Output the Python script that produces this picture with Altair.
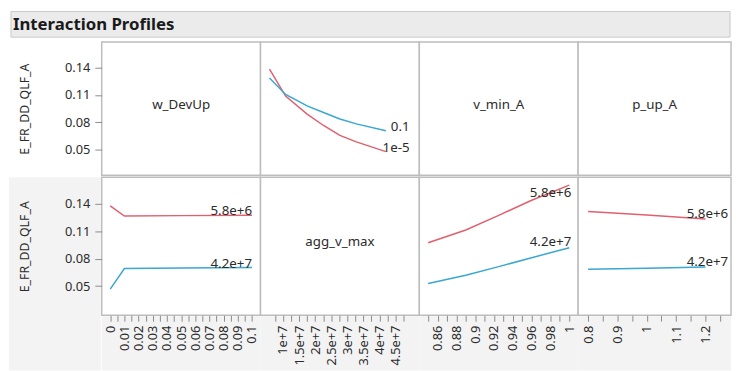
import altair as alt
import pandas as pd

# ---------------- data ----------------
TITLE = "Interaction Profiles"
Y_TITLE = "E_FR_DD_QLF_A"
FACTORS = ["w_DevUp", "agg_v_max", "v_min_A", "p_up_A"]

# response vs agg_v_max, for two levels of w_DevUp
agg_x = [5.8e6, 1.08e7, 1.75e7, 2.26e7, 2.77e7, 3.28e7, 4.2e7]
agg_red = [0.1386, 0.1089, 0.0890, 0.0764, 0.0655, 0.0583, 0.0475]
agg_blue = [0.1288, 0.1107, 0.0980, 0.0908, 0.0836, 0.0782, 0.0706]
wdev_levels = ["1e-5", "0.1"]

# response vs w_DevUp, for two levels of agg_v_max
wdev_x = [0.00001, 0.01, 0.05, 0.1]
wdev_red = [0.1378, 0.1267, 0.1272, 0.1277]
wdev_blue = [0.0467, 0.0692, 0.0698, 0.0703]
agg_levels = ["5.8e+6", "4.2e+7"]

# response vs v_min_A
vmin_x = [0.85, 0.89, 0.925, 0.96, 1.0]
vmin_red = [0.0974, 0.1115, 0.1275, 0.1440, 0.1606]
vmin_blue = [0.0529, 0.0619, 0.0713, 0.0811, 0.0920]

# response vs p_up_A
pup_x = [0.8, 1.0, 1.2]
pup_red = [0.1317, 0.1278, 0.1234]
pup_blue = [0.0684, 0.0695, 0.0709]

y_ticks = [0.05, 0.08, 0.11, 0.14]

# ---------------- style ----------------
RED = "#E0606E"
BLUE = "#3AA7CF"
FONT = "Noto Sans"
TXT = "#2b2b2b"
BORDER = "#bdbdbd"
GREY_BG = "#f3f3f3"
COL_W = [161, 161, 161, 155]
ROW_H = [135, 140]
LEFT_W = 94      # width of the y-axis strip left of the panels
BOTTOM_H = 56    # height of the x-axis strip below the panels

X_AXES = [
    dict(domain=[-0.006, 0.106], ticks=[round(i * 0.005, 4) for i in range(0, 21)], step=0.01, fmt="~g"),
    dict(domain=[3.0e6, 5.24e7], ticks=[7.5e6 + i * 2.5e6 for i in range(0, 17)], step=5e6, fmt=".2~e"),
    dict(domain=[0.8406, 1.0094], ticks=[round(0.85 + i * 0.01, 3) for i in range(0, 16)], step=0.02, fmt="~g"),
    dict(domain=[0.766, 1.287], ticks=[round(0.75 + i * 0.05, 3) for i in range(0, 11)], step=0.1, fmt="~g"),
]
Y_DOMAINS = [[0.0215, 0.1685], [0.018, 0.1693]]


def x_enc(col, show):
    a = X_AXES[col]
    if show:
        axis = alt.Axis(
            values=a["ticks"],
            labelExpr=f"abs(datum.value/{a['step']} - round(datum.value/{a['step']})) < 1e-6 ? format(datum.value, '{a['fmt']}') : ''",
            labelAngle=270,
            labelFontSize=13,
            labelColor=TXT,
            labelFont=FONT,
            labelPadding=4,
            labelOverlap=False,
            labelFlush=False,
            tickSize=6,
            tickColor="#8a8a8a",
            domain=False,
            grid=False,
            title=None,
            zindex=1,
        )
    else:
        axis = None
    return alt.X("x:Q", scale=alt.Scale(domain=a["domain"], nice=False, zero=False), axis=axis)


def y_enc(row, show):
    if show:
        axis = alt.Axis(
            values=y_ticks,
            format=".2f",
            labelFontSize=13,
            labelColor=TXT,
            labelFont=FONT,
            labelPadding=5,
            labelOverlap=False,
            labelFlush=False,
            tickSize=7,
            tickColor="#8a8a8a",
            domain=False,
            grid=False,
            title=Y_TITLE,
            titleFont=FONT,
            titleFontSize=12.5,
            titleFontWeight="normal",
            titleColor=TXT,
            titlePadding=33,
            zindex=1,
        )
    else:
        axis = None
    return alt.Y("y:Q", scale=alt.Scale(domain=Y_DOMAINS[row], nice=False, zero=False), axis=axis)


COLOR = alt.Color("c:N", scale=alt.Scale(domain=["red", "blue"], range=[RED, BLUE]), legend=None)


def backdrop(row, col):
    """Light grey strips behind the axes of the bottom row."""
    out = []
    if row != 1:
        return out
    one = pd.DataFrame({"k": [0]})
    w, h = COL_W[col], ROW_H[row]
    out.append(alt.Chart(one).mark_rect(fill=GREY_BG, clip=False).encode(
        x=alt.value(0), x2=alt.value(w), y=alt.value(h + 1), y2=alt.value(h + BOTTOM_H)))
    if col == 0:
        out.append(alt.Chart(one).mark_rect(fill=GREY_BG, clip=False).encode(
            x=alt.value(-LEFT_W), x2=alt.value(-1), y=alt.value(0), y2=alt.value(h + BOTTOM_H)))
    return out


def line_panel(row, col, xs, reds, blues, labels, offsets):
    df = pd.DataFrame(
        {"x": xs + xs, "y": reds + blues, "c": ["red"] * len(xs) + ["blue"] * len(xs),
         "lab": [labels[0]] * len(xs) + [labels[1]] * len(xs)}
    )
    xe, ye = x_enc(col, row == 1), y_enc(row, col == 0)
    lines = alt.Chart(df).mark_line(strokeWidth=1.5, clip=True).encode(
        x=xe, y=ye, color=COLOR, detail="c:N"
    )
    layers = backdrop(row, col) + [lines]
    for k, c in enumerate(["red", "blue"]):
        end = df[df.c == c].tail(1)
        dx, dy = offsets[k]
        layers.append(
            alt.Chart(end).mark_text(align="right", baseline="middle", dx=dx, dy=dy,
                                     fontSize=13.5, font=FONT, color=TXT).encode(
                x=xe, y=ye, text="lab:N")
        )
    return alt.layer(*layers).properties(width=COL_W[col], height=ROW_H[row])


def label_panel(row, col, name, axis_xs, axis_ys):
    df = pd.DataFrame({"x": axis_xs, "y": axis_ys})
    ghost = alt.Chart(df).mark_point(opacity=0).encode(
        x=x_enc(col, row == 1), y=y_enc(row, col == 0)
    )
    txt = alt.Chart(pd.DataFrame({"t": [name]})).mark_text(
        fontSize=13.5, font=FONT, color=TXT, align="center", baseline="middle"
    ).encode(x=alt.value(COL_W[col] / 2), y=alt.value(ROW_H[row] * 0.47), text="t:N")
    return alt.layer(*(backdrop(row, col) + [ghost, txt])).properties(width=COL_W[col], height=ROW_H[row])


row1 = alt.HConcatChart(
    hconcat=[
        label_panel(0, 0, FACTORS[0], wdev_x, wdev_red),
        line_panel(0, 1, agg_x, agg_red, agg_blue, wdev_levels, [(24, -4), (24, -4)]),
        label_panel(0, 2, FACTORS[2], vmin_x, vmin_red),
        label_panel(0, 3, FACTORS[3], pup_x, pup_red),
    ],
    spacing=0, bounds="flush",
)
row2 = alt.HConcatChart(
    hconcat=[
        line_panel(1, 0, wdev_x, wdev_red, wdev_blue, agg_levels, [(0, -4), (0, -4)]),
        label_panel(1, 1, FACTORS[1], agg_x, agg_red),
        line_panel(1, 2, vmin_x, vmin_red, vmin_blue, agg_levels, [(2, 8), (2, -6)]),
        line_panel(1, 3, pup_x, pup_red, pup_blue, agg_levels, [(23, -5), (23, -5)]),
    ],
    spacing=0, bounds="flush",
)
grid = alt.VConcatChart(vconcat=[row1, row2], spacing=0)

PANELS_W = sum(COL_W)
HH = 26
hdr_df = pd.DataFrame({"t": [TITLE]})
header = alt.layer(
    alt.Chart(hdr_df).mark_rect(fill="#ebebeb", stroke="#c9c9c9", strokeWidth=1, clip=False).encode(
        x=alt.value(-LEFT_W + 2), x2=alt.value(PANELS_W - 1), y=alt.value(0), y2=alt.value(HH)
    ),
    alt.Chart(hdr_df).mark_text(align="left", baseline="middle", fontSize=17, fontWeight="bold",
                                font=FONT, color="#1a1a1a").encode(
        x=alt.value(-LEFT_W + 4), y=alt.value(HH / 2 + 1), text="t:N"
    ),
).properties(width=PANELS_W, height=HH, view=alt.ViewConfig(stroke=None))

chart = alt.VConcatChart(vconcat=[header, grid], spacing=3).properties(
    padding={"left": 0, "top": 0, "right": 0, "bottom": 0},
    background="white",
).configure_view(stroke=BORDER, strokeWidth=1.5, fill="white").configure_concat(spacing=0)

chart.save("out.html", embed_options={"renderer": "svg", "actions": False})
